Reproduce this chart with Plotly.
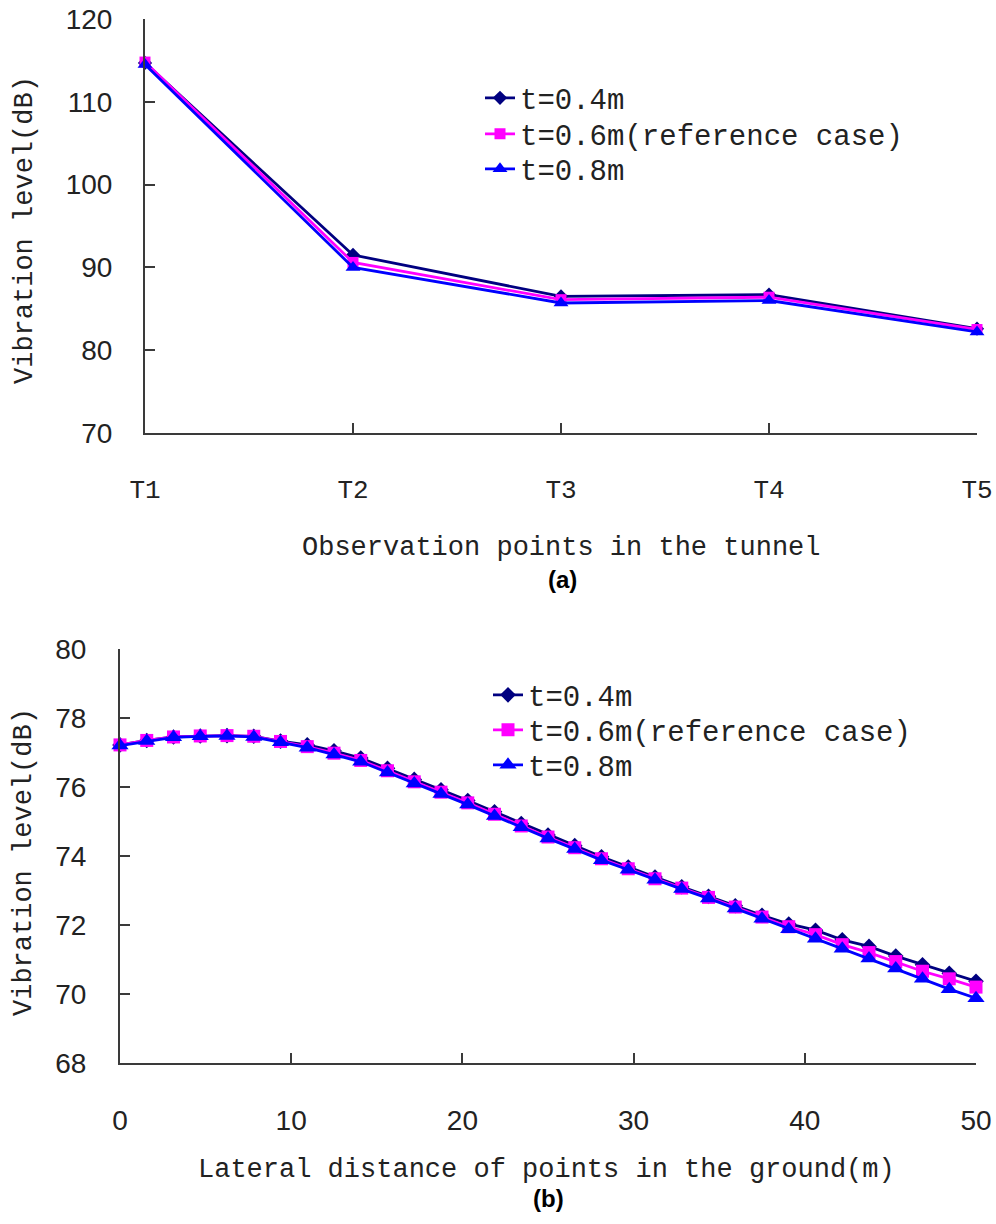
import plotly.graph_objects as go

# ---- data -------------------------------------------------------------
# (a) observation points inside the tunnel
tunnel_points = ["T1", "T2", "T3", "T4", "T5"]
tunnel_t04 = [114.7, 91.5, 86.5, 86.7, 82.6]
tunnel_t06 = [114.8, 90.6, 86.1, 86.4, 82.5]
tunnel_t08 = [114.5, 90.0, 85.7, 86.0, 82.2]

# (b) points on the ground surface, 1.5625 m apart from 0 to 50 m
ground_x = [i * 50 / 32 for i in range(33)]
ground_t04 = [77.22, 77.35, 77.45, 77.48, 77.49, 77.47, 77.33, 77.22, 77.05,
              76.84, 76.54, 76.22, 75.92, 75.61, 75.28, 74.94, 74.61, 74.30,
              73.98, 73.68, 73.39, 73.11, 72.83, 72.56, 72.28, 72.03, 71.85,
              71.57, 71.38, 71.10, 70.85, 70.60, 70.37]
ground_t06 = [77.22, 77.35, 77.45, 77.48, 77.49, 77.47, 77.32, 77.17, 76.98,
              76.77, 76.47, 76.15, 75.85, 75.54, 75.21, 74.87, 74.55, 74.24,
              73.92, 73.63, 73.34, 73.07, 72.80, 72.52, 72.23, 71.95, 71.72,
              71.43, 71.20, 70.94, 70.66, 70.44, 70.20]
ground_t08 = [77.20, 77.33, 77.44, 77.47, 77.48, 77.45, 77.30, 77.14, 76.94,
              76.73, 76.42, 76.10, 75.80, 75.49, 75.16, 74.83, 74.51, 74.20,
              73.88, 73.60, 73.31, 73.04, 72.77, 72.48, 72.18, 71.88, 71.60,
              71.31, 71.03, 70.74, 70.44, 70.14, 69.88]

series_names = ["t=0.4m", "t=0.6m(reference case)", "t=0.8m"]
series_colors = ["#000080", "#FF00FF", "#0000FF"]
series_symbols = ["diamond", "square", "triangle-up"]
top_sizes = [11, 11, 13]
bottom_sizes = [12, 13, 15]

W, H = 996, 1224
MONO = "Liberation Mono, Courier New, monospace"
SANS = "Liberation Sans, Arial, sans-serif"
AXIS_COLOR = "#3a3a3a"
TEXT_COLOR = "#222222"


def px_x(p):
    return p / W


def px_y(p):
    return 1 - p / H


fig = go.Figure()

# each entry gets its own legend box so the rows can sit close together
panels = [
    ("x", "y", ["legend", "legend2", "legend3"], tunnel_points,
     [tunnel_t04, tunnel_t06, tunnel_t08], top_sizes),
    ("x2", "y2", ["legend4", "legend5", "legend6"], ground_x,
     [ground_t04, ground_t06, ground_t08], bottom_sizes),
]
for xa, ya, legs, xs, ys_list, sizes in panels:
    for name, color, sym, size, ys, leg in zip(series_names, series_colors,
                                               series_symbols, sizes, ys_list, legs):
        fig.add_trace(go.Scatter(
            x=xs, y=ys, name=name, xaxis=xa, yaxis=ya, legend=leg,
            mode="lines+markers", cliponaxis=False,
            line=dict(color=color, width=2.8),
            marker=dict(symbol=sym, size=size, color=color,
                        line=dict(width=0)),
        ))

axis_common = dict(
    showline=True, linecolor=AXIS_COLOR, linewidth=2,
    ticks="inside", ticklen=10, tickwidth=2, tickcolor=AXIS_COLOR,
    showgrid=False, zeroline=False, automargin=False,
)


def legend_box(left_px, center_px):
    return dict(x=px_x(left_px), y=px_y(center_px),
                xanchor="left", yanchor="middle",
                bgcolor="rgba(0,0,0,0)", borderwidth=0,
                itemsizing="trace",
                font=dict(family=MONO, size=29, color=TEXT_COLOR))


fig.update_layout(
    width=W, height=H,
    margin=dict(l=0, r=0, t=0, b=0),
    paper_bgcolor="white", plot_bgcolor="white",
    showlegend=True,
    xaxis=dict(domain=[px_x(145), px_x(977)], anchor="y",
               type="category", categoryorder="array",
               categoryarray=tunnel_points, range=[0, 4],
               tickfont=dict(family=MONO, size=26, color=TEXT_COLOR),
               ticklabelstandoff=32, **axis_common),
    yaxis=dict(domain=[px_y(433), px_y(19)], anchor="x",
               range=[70, 120], dtick=10,
               tickfont=dict(family=SANS, size=28, color=TEXT_COLOR),
               ticklabelstandoff=25, **axis_common),
    xaxis2=dict(domain=[px_x(120), px_x(976)], anchor="y2",
                range=[0, 50], dtick=10,
                tickfont=dict(family=SANS, size=28, color=TEXT_COLOR),
                ticklabelstandoff=31, **axis_common),
    yaxis2=dict(domain=[px_y(1063), px_y(649)], anchor="x2",
                range=[68, 80], dtick=2,
                tickfont=dict(family=SANS, size=28, color=TEXT_COLOR),
                ticklabelstandoff=26, **axis_common),
    legend=legend_box(480, 98),
    legend2=legend_box(480, 134),
    legend3=legend_box(480, 169),
    legend4=legend_box(488, 695),
    legend5=legend_box(488, 730),
    legend6=legend_box(488, 765),
)

annotations = [
    dict(text="Vibration level(dB)", x=px_x(25), y=px_y(230), textangle=-90),
    dict(text="Observation points in the tunnel", x=px_x(561), y=px_y(548)),
    dict(text="Vibration level(dB)", x=px_x(24), y=px_y(862), textangle=-90),
    dict(text="Lateral distance of points in the ground(m)", x=px_x(546), y=px_y(1170)),
]
for a in annotations:
    fig.add_annotation(xref="paper", yref="paper", showarrow=False,
                       xanchor="center", yanchor="middle",
                       font=dict(family=MONO, size=27, color=TEXT_COLOR), **a)

for label, cx, cy in [("(a)", 562, 579), ("(b)", 548, 1198)]:
    fig.add_annotation(text=f"<b>{label}</b>", xref="paper", yref="paper",
                       x=px_x(cx), y=px_y(cy), showarrow=False,
                       xanchor="center", yanchor="middle",
                       font=dict(family=SANS, size=24, color="black"))

fig.write_html("out.html")
